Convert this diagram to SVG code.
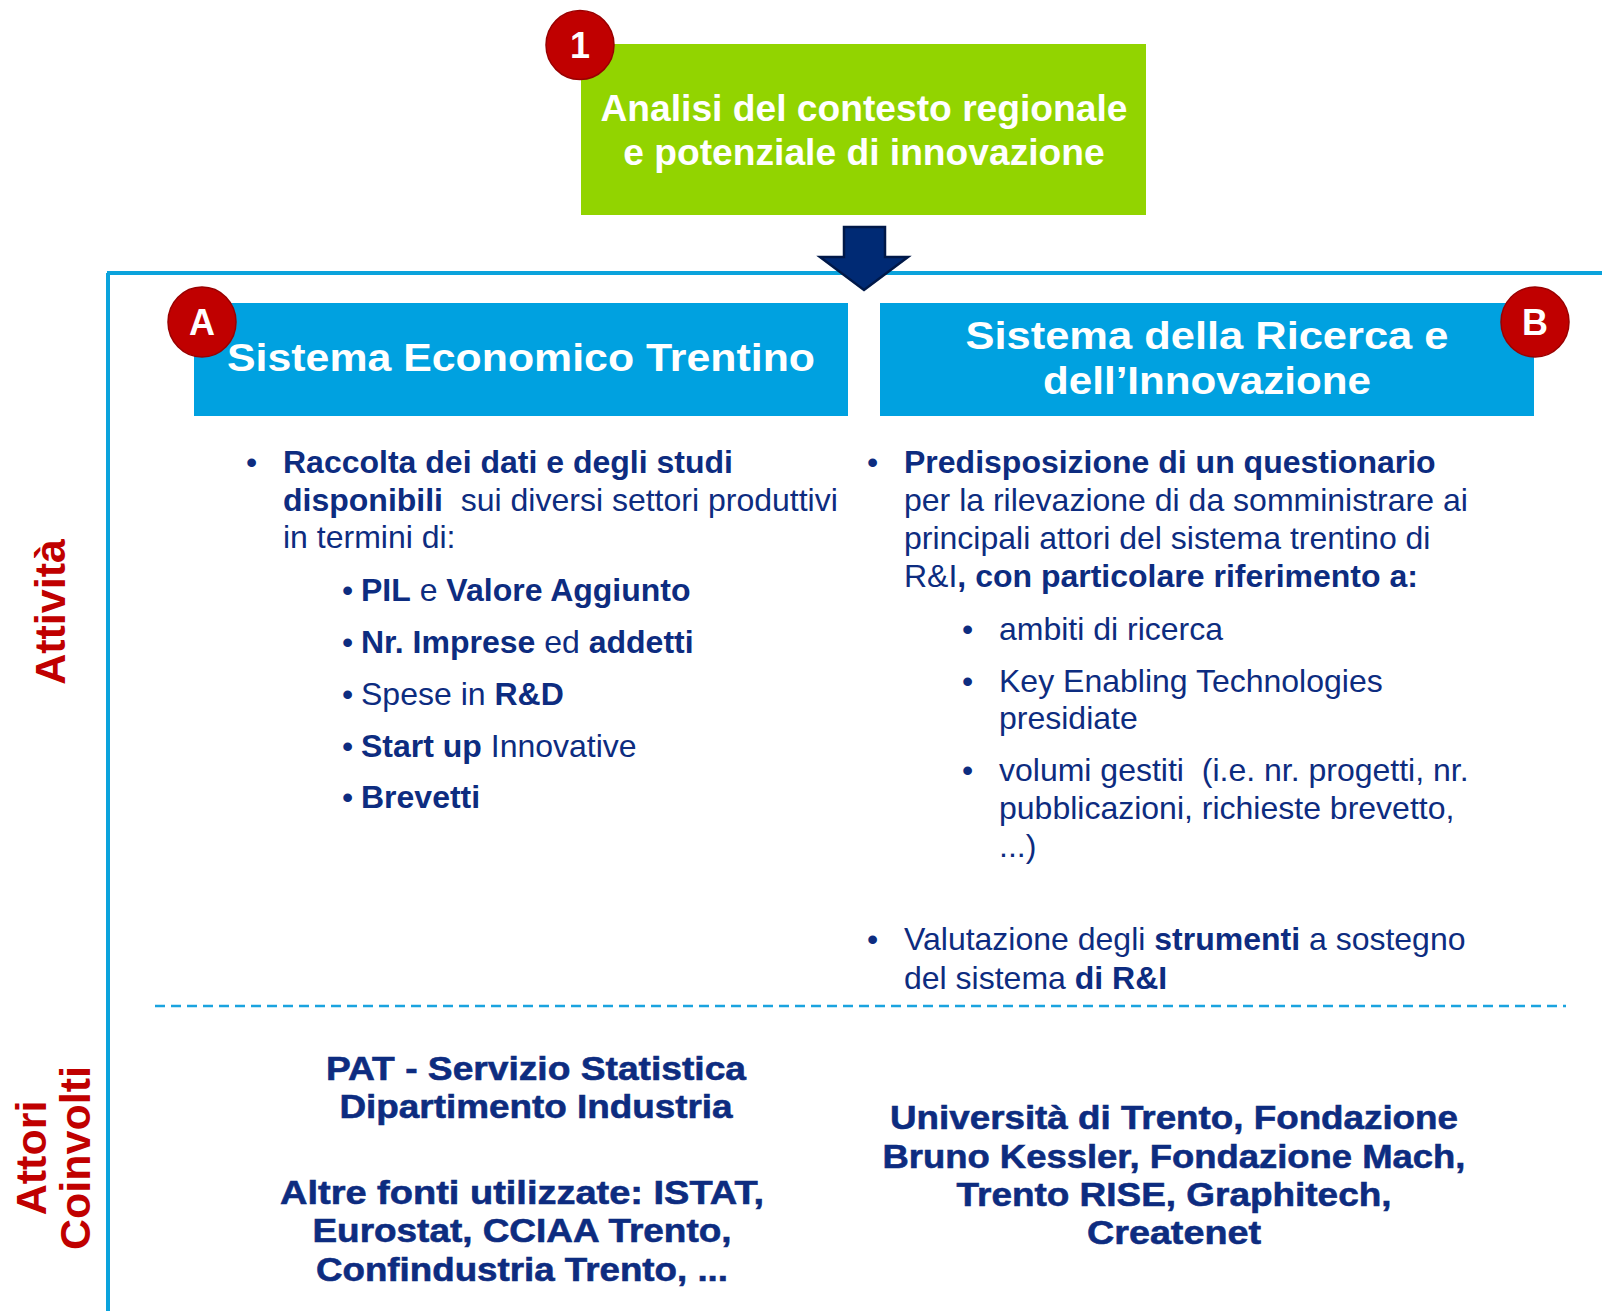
<svg xmlns="http://www.w3.org/2000/svg" width="1602" height="1311" viewBox="0 0 1602 1311">
<style>
text{font-family:"Liberation Sans",Arial,sans-serif;}
.w{fill:#fff;font-weight:bold;}
.nv{fill:#0D2C80;font-size:32px;}
.b{font-weight:bold;}
.red{fill:#C00000;font-weight:bold;font-size:43px;}
.bot{fill:#0D2C80;font-weight:bold;font-size:34px;text-anchor:middle;stroke:#0D2C80;stroke-width:0.6;}
.badge{fill:#C00000;stroke:#9A0000;stroke-width:1.5;}
.bt{fill:#fff;font-weight:bold;font-size:36px;text-anchor:middle;}
.blue{fill:#00A1E0;}
</style>
<rect width="1602" height="1311" fill="#fff"/>
<g id="frame">
<path d="M107 273 H1602 M108 273 V1311" fill="none" stroke="#0BA3DC" stroke-width="4"/>
<line x1="155" y1="1006" x2="1566" y2="1006" stroke="#1AA3DF" stroke-width="2.5" stroke-dasharray="10 6"/>
</g>
<g id="node-1">
<rect x="581" y="44" width="565" height="171" fill="#92D400"/>
<text class="w" font-size="37.2" x="864" y="121" text-anchor="middle">Analisi del contesto regionale</text>
<text class="w" font-size="37.2" x="864" y="165" text-anchor="middle">e potenziale di innovazione</text>
<ellipse class="badge" cx="580" cy="45" rx="34" ry="34.5"/>
<text class="bt" x="580" y="58">1</text>
</g>
<g id="connectors">
<path d="M844 227 H885 V257 H908 L864 290 L820 257 H844 Z" fill="#002A74" stroke="#001848" stroke-width="2.5" stroke-linejoin="miter"/>
</g>
<g id="node-A">
<rect class="blue" x="194" y="303" width="654" height="113"/>
<text class="w" font-size="38" x="521" y="371" text-anchor="middle" textLength="588" lengthAdjust="spacingAndGlyphs">Sistema Economico Trentino</text>
<ellipse class="badge" cx="202" cy="322" rx="34" ry="35"/>
<text class="bt" x="202" y="335">A</text>
</g>
<g id="node-B">
<rect class="blue" x="880" y="303" width="654" height="113"/>
<text class="w" font-size="38" x="1207" y="349" text-anchor="middle" textLength="483" lengthAdjust="spacingAndGlyphs">Sistema della Ricerca e</text>
<text class="w" font-size="38" x="1207" y="394" text-anchor="middle" textLength="328" lengthAdjust="spacingAndGlyphs">dell’Innovazione</text>
<ellipse class="badge" cx="1535" cy="322" rx="34" ry="35"/>
<text class="bt" x="1535" y="335">B</text>
</g>
<g id="labels">
<text class="red" transform="translate(65 612) rotate(-90)" text-anchor="middle">Attività</text>
<text class="red" transform="translate(46 1158) rotate(-90)" text-anchor="middle">Attori</text>
<text class="red" transform="translate(90 1158) rotate(-90)" text-anchor="middle">Coinvolti</text>
</g>
<g id="activities-A">
<text class="nv" x="246" y="473">•</text>
<text class="nv b" x="283" y="473">Raccolta dei dati e degli studi</text>
<text class="nv" x="283" y="511" xml:space="preserve"><tspan class="b">disponibili</tspan>  sui diversi settori produttivi</text>
<text class="nv" x="283" y="548">in termini di:</text>
<text class="nv" x="342" y="601">•</text>
<text class="nv" x="361" y="601"><tspan class="b">PIL</tspan> e <tspan class="b">Valore Aggiunto</tspan></text>
<text class="nv" x="342" y="653">•</text>
<text class="nv" x="361" y="653"><tspan class="b">Nr. Imprese</tspan> ed <tspan class="b">addetti</tspan></text>
<text class="nv" x="342" y="705">•</text>
<text class="nv" x="361" y="705">Spese in <tspan class="b">R&amp;D</tspan></text>
<text class="nv" x="342" y="757">•</text>
<text class="nv" x="361" y="757"><tspan class="b">Start up</tspan> Innovative</text>
<text class="nv" x="342" y="808">•</text>
<text class="nv b" x="361" y="808">Brevetti</text>
</g>
<g id="activities-B">
<text class="nv" x="867" y="473">•</text>
<text class="nv b" x="904" y="473">Predisposizione di un questionario</text>
<text class="nv" x="904" y="511">per la rilevazione di da somministrare ai</text>
<text class="nv" x="904" y="549">principali attori del sistema trentino di</text>
<text class="nv" x="904" y="587">R&amp;I<tspan class="b">, con particolare riferimento a:</tspan></text>
<text class="nv" x="962" y="640">•</text>
<text class="nv" x="999" y="640">ambiti di ricerca</text>
<text class="nv" x="962" y="692">•</text>
<text class="nv" x="999" y="692">Key Enabling Technologies</text>
<text class="nv" x="999" y="729">presidiate</text>
<text class="nv" x="962" y="781">•</text>
<text class="nv" x="999" y="781" xml:space="preserve">volumi gestiti  (i.e. nr. progetti, nr.</text>
<text class="nv" x="999" y="819">pubblicazioni, richieste brevetto,</text>
<text class="nv" x="999" y="857">...)</text>
<text class="nv" x="867" y="950">•</text>
<text class="nv" x="904" y="950">Valutazione degli <tspan class="b">strumenti</tspan> a sostegno</text>
<text class="nv" x="904" y="989">del sistema <tspan class="b">di R&amp;I</tspan></text>
</g>
<g id="actors-A">
<text class="bot" x="536" y="1080" textLength="420" lengthAdjust="spacingAndGlyphs">PAT - Servizio Statistica</text>
<text class="bot" x="536" y="1118" textLength="393" lengthAdjust="spacingAndGlyphs">Dipartimento Industria</text>
<text class="bot" x="522" y="1204" textLength="484" lengthAdjust="spacingAndGlyphs">Altre fonti utilizzate: ISTAT,</text>
<text class="bot" x="522" y="1242" textLength="419" lengthAdjust="spacingAndGlyphs">Eurostat, CCIAA Trento,</text>
<text class="bot" x="522" y="1281" textLength="412" lengthAdjust="spacingAndGlyphs">Confindustria Trento, ...</text>
</g>
<g id="actors-B">
<text class="bot" x="1174" y="1129" textLength="568" lengthAdjust="spacingAndGlyphs">Università di Trento, Fondazione</text>
<text class="bot" x="1174" y="1168" textLength="583" lengthAdjust="spacingAndGlyphs">Bruno Kessler, Fondazione Mach,</text>
<text class="bot" x="1174" y="1206" textLength="435" lengthAdjust="spacingAndGlyphs">Trento RISE, Graphitech,</text>
<text class="bot" x="1174" y="1244" textLength="174" lengthAdjust="spacingAndGlyphs">Createnet</text>
</g>
</svg>
